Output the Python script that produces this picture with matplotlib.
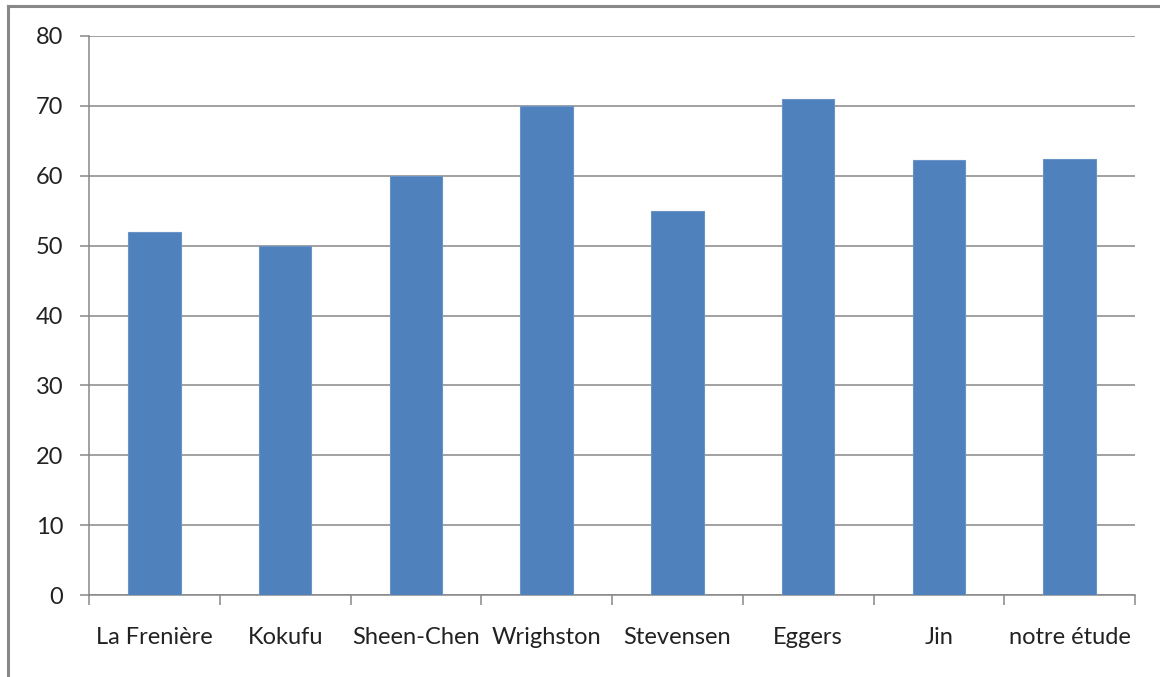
import matplotlib
matplotlib.use('Agg')
import matplotlib.pyplot as plt
from matplotlib.lines import Line2D

# donnees
etudes = ['La Frenière', 'Kokufu', 'Sheen-Chen', 'Wrighston', 'Stevensen',
          'Eggers', 'Jin', 'notre étude']
valeurs = [52, 50, 60, 70, 55, 71, 62.2, 62.4]
graduations = [0, 10, 20, 30, 40, 50, 60, 70, 80]

plt.rcParams['font.family'] = ['Lato', 'DejaVu Sans']

fig = plt.figure(figsize=(11.6, 6.77), dpi=100)
ax = fig.add_axes([89/1160, 82/677, (1135-89)/1160, (595-36)/677])

gris = '#878787'
x = list(range(len(etudes)))
ax.bar(x, valeurs, width=0.4, color='#4F81BD', edgecolor='#6a93c6',
       linewidth=0.8, zorder=3)

ax.set_xlim(-0.5, len(etudes) - 0.5)
ax.set_ylim(0, 80)
ax.set_yticks(graduations)
ax.yaxis.grid(True, color=gris, linewidth=1.1, zorder=0)

# ticks aux limites des categories, etiquettes au centre
ax.set_xticks([i - 0.5 for i in range(len(etudes) + 1)])
ax.set_xticklabels([])
ax.set_xticks(x, minor=True)
ax.set_xticklabels(etudes, minor=True, fontsize=17, color='#222222')
ax.tick_params(axis='x', which='major', length=7, width=1.1, color=gris)
ax.tick_params(axis='x', which='minor', length=0, pad=23)
ax.tick_params(axis='y', length=6.5, width=1.1, color=gris, pad=12,
               labelsize=17, labelcolor='#222222')

for s in ['top', 'right']:
    ax.spines[s].set_visible(False)
for s in ['left', 'bottom']:
    ax.spines[s].set_color(gris)
    ax.spines[s].set_linewidth(1.1)

# cadre du graphique (coupe a droite et en bas)
fig.add_artist(Line2D([7.5/1160, 1], [1 - 5.5/677, 1 - 5.5/677],
                      transform=fig.transFigure, color='#888888', linewidth=2.2))
fig.add_artist(Line2D([7.5/1160, 7.5/1160], [0, 1 - 5.5/677],
                      transform=fig.transFigure, color='#888888', linewidth=2.2))

plt.savefig('out.png', dpi=100)
